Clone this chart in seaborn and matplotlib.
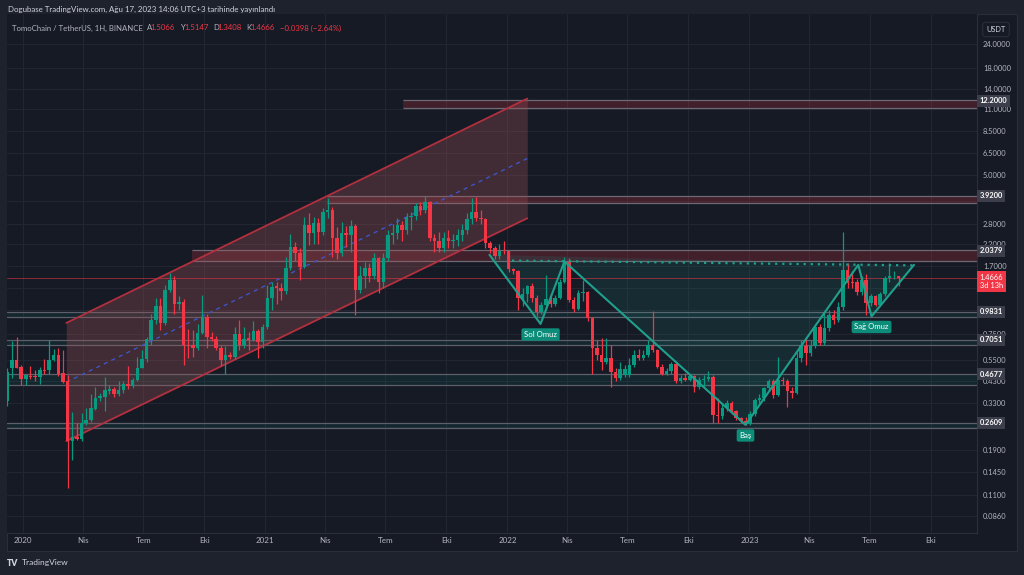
import matplotlib
matplotlib.use("Agg")
import matplotlib.pyplot as plt
import matplotlib.dates as mdates
import matplotlib.transforms as mtransforms
from matplotlib.patches import Rectangle
from matplotlib.ticker import NullLocator
import numpy as np
import pandas as pd
import seaborn as sns

# ------------------------------------------------------------------ data
week_start = "2019-12-09"   # weekly candles (Mondays)
opens = [0.34, 0.50, 0.556, 0.51, 0.44, 0.458, 0.455, 0.453, 0.49, 0.49,
         0.55, 0.59, 0.475, 0.43, 0.21, 0.22, 0.215, 0.26, 0.27, 0.31,
         0.35, 0.357, 0.38, 0.39, 0.367, 0.385, 0.415, 0.405, 0.436, 0.505,
         0.56, 0.70, 0.89, 1.05, 0.86, 1.275, 1.43, 1.08, 1.10, 0.665,
         0.665, 0.635, 0.765, 0.92, 0.73, 0.71, 0.636, 0.553, 0.59, 0.575,
         0.75, 0.66, 0.72, 0.70, 0.78, 0.685, 0.82, 1.16, 1.33, 1.30,
         1.255, 1.65, 2.14, 1.97, 1.68, 2.77, 2.53, 2.85, 2.56, 3.22,
         3.30, 2.37, 1.98, 2.53, 2.45, 2.74, 1.275, 1.50, 1.66, 1.50,
         1.86, 1.41, 1.86, 2.46, 2.51, 2.77, 2.61, 3.05, 3.08, 3.46,
         3.30, 3.62, 2.37, 2.30, 2.10, 2.37, 2.28, 2.32, 2.46, 2.61,
         2.96, 3.25, 3.00, 2.96, 2.23, 2.10, 1.92, 2.04, 2.02, 1.64,
         1.60, 1.16, 1.22, 1.34, 1.16, 0.98, 1.066, 1.145, 1.08, 1.16,
         1.41, 1.79, 1.13, 1.02, 1.23, 1.24, 0.91, 0.636, 0.587, 0.542,
         0.568, 0.482, 0.447, 0.465, 0.465, 0.521, 0.59, 0.565, 0.587, 0.661,
         0.623, 0.511, 0.469, 0.487, 0.526, 0.428, 0.447, 0.436, 0.456, 0.40,
         0.433, 0.443, 0.45, 0.287, 0.282, 0.312, 0.330, 0.301, 0.277, 0.266,
         0.258, 0.290, 0.343, 0.353, 0.394, 0.428, 0.364, 0.436, 0.428, 0.38,
         0.372, 0.565, 0.656, 0.598, 0.656, 0.823, 0.675, 0.807, 0.945, 0.891,
         1.045, 1.62, 1.41, 1.41, 1.25, 1.44, 1.09, 1.18, 1.066, 1.21,
         1.47, 1.50, 1.5066]
highs = [0.50, 0.69, 0.73, 0.52, 0.46, 0.515, 0.49, 0.51, 0.56, 0.70,
         0.63, 0.635, 0.62, 0.463, 0.296, 0.262, 0.294, 0.313, 0.37, 0.40,
         0.375, 0.45, 0.41, 0.40, 0.43, 0.43, 0.515, 0.445, 0.575, 0.62,
         0.73, 0.96, 1.16, 1.16, 1.355, 1.56, 1.50, 1.18, 1.15, 0.80,
         0.79, 0.85, 1.20, 0.96, 0.77, 0.74, 0.66, 0.65, 0.61, 0.82,
         0.89, 0.82, 0.77, 0.88, 0.80, 0.85, 1.355, 1.41, 1.41, 1.38,
         1.90, 2.50, 2.25, 2.10, 3.05, 3.20, 3.05, 3.00, 3.40, 3.84,
         3.45, 2.70, 2.88, 2.75, 2.94, 2.80, 1.70, 1.79, 1.75, 1.98,
         1.90, 1.98, 2.60, 2.80, 3.00, 2.90, 3.20, 3.25, 3.60, 3.62,
         3.90, 3.70, 2.50, 2.55, 2.55, 2.60, 2.50, 2.65, 2.80, 3.20,
         3.80, 3.85, 3.30, 3.00, 2.30, 2.15, 2.20, 2.30, 2.05, 1.66,
         1.62, 1.30, 1.36, 1.38, 1.20, 1.10, 1.52, 1.18, 1.20, 1.45,
         1.88, 1.86, 1.17, 1.27, 1.44, 1.26, 0.92, 0.70, 0.715, 0.715,
         0.66, 0.50, 0.542, 0.52, 0.565, 0.62, 0.63, 0.62, 0.70, 0.99,
         0.63, 0.53, 0.50, 0.54, 0.545, 0.46, 0.473, 0.47, 0.46, 0.45,
         0.46, 0.487, 0.46, 0.35, 0.33, 0.345, 0.34, 0.305, 0.28, 0.28,
         0.30, 0.35, 0.37, 0.40, 0.44, 0.44, 0.575, 0.45, 0.44, 0.40,
         0.61, 0.70, 0.715, 0.70, 0.85, 0.85, 0.985, 1.00, 1.00, 1.10,
         2.56, 1.75, 1.60, 1.45, 1.50, 1.55, 1.21, 1.20, 1.25, 1.50,
         1.75, 1.60, 1.5147]
lows = [0.32, 0.445, 0.50, 0.408, 0.41, 0.44, 0.43, 0.415, 0.47, 0.47,
        0.545, 0.455, 0.42, 0.12, 0.168, 0.213, 0.21, 0.255, 0.265, 0.305,
        0.34, 0.30, 0.37, 0.357, 0.36, 0.375, 0.39, 0.395, 0.43, 0.50,
        0.54, 0.665, 0.85, 0.79, 0.84, 1.24, 0.96, 1.00, 0.52, 0.565,
        0.575, 0.62, 0.75, 0.64, 0.69, 0.62, 0.515, 0.47, 0.56, 0.56,
        0.62, 0.64, 0.62, 0.69, 0.565, 0.64, 0.80, 1.00, 1.08, 1.13,
        1.22, 1.62, 1.80, 1.44, 1.65, 2.18, 2.20, 2.20, 2.45, 3.00,
        1.90, 1.85, 1.92, 2.13, 2.00, 0.945, 1.23, 1.30, 1.40, 1.45,
        1.23, 1.30, 1.80, 2.20, 2.35, 2.30, 2.50, 2.60, 2.95, 3.10,
        3.20, 2.30, 2.00, 2.00, 2.00, 2.10, 2.10, 2.15, 2.30, 2.50,
        2.80, 2.90, 2.80, 2.10, 1.98, 1.85, 1.85, 1.95, 1.58, 1.55,
        1.00, 1.05, 1.10, 1.10, 0.94, 0.96, 1.00, 1.04, 1.05, 1.14,
        1.38, 1.10, 0.98, 1.00, 1.12, 0.88, 0.47, 0.55, 0.49, 0.53,
        0.40, 0.43, 0.436, 0.45, 0.45, 0.51, 0.553, 0.553, 0.575, 0.61,
        0.50, 0.46, 0.465, 0.47, 0.42, 0.42, 0.428, 0.43, 0.379, 0.39,
        0.40, 0.43, 0.261, 0.261, 0.275, 0.30, 0.29, 0.27, 0.262, 0.255,
        0.256, 0.285, 0.33, 0.34, 0.38, 0.35, 0.36, 0.41, 0.316, 0.35,
        0.37, 0.54, 0.521, 0.58, 0.64, 0.66, 0.66, 0.78, 0.85, 0.87,
        1.00, 1.30, 1.30, 1.20, 1.20, 0.945, 1.05, 1.05, 1.05, 1.18,
        1.40, 1.45, 1.3408]
closes = [0.48, 0.556, 0.505, 0.44, 0.46, 0.452, 0.45, 0.49, 0.485, 0.55,
          0.59, 0.47, 0.425, 0.21, 0.22, 0.215, 0.26, 0.27, 0.312, 0.35,
          0.36, 0.387, 0.39, 0.368, 0.385, 0.415, 0.405, 0.436, 0.505, 0.56,
          0.71, 0.89, 1.05, 0.86, 1.275, 1.43, 1.08, 1.10, 0.66, 0.655,
          0.635, 0.765, 0.92, 0.73, 0.71, 0.636, 0.553, 0.59, 0.575, 0.75,
          0.66, 0.71, 0.705, 0.78, 0.685, 0.82, 1.16, 1.32, 1.30, 1.255,
          1.65, 2.14, 1.97, 1.68, 2.77, 2.53, 2.85, 2.56, 3.22, 3.30,
          2.37, 1.98, 2.53, 2.45, 2.74, 1.275, 1.50, 1.66, 1.50, 1.86,
          1.41, 1.86, 2.46, 2.51, 2.77, 2.61, 3.05, 3.08, 3.46, 3.30,
          3.62, 2.37, 2.30, 2.10, 2.37, 2.28, 2.32, 2.46, 2.61, 2.96,
          3.25, 3.00, 2.96, 2.23, 2.10, 1.92, 2.04, 2.02, 1.64, 1.60,
          1.16, 1.22, 1.34, 1.16, 0.98, 1.066, 1.14, 1.08, 1.16, 1.41,
          1.79, 1.13, 1.02, 1.23, 1.24, 0.91, 0.636, 0.587, 0.542, 0.568,
          0.482, 0.447, 0.497, 0.497, 0.521, 0.59, 0.565, 0.587, 0.661, 0.623,
          0.511, 0.469, 0.487, 0.526, 0.428, 0.447, 0.436, 0.456, 0.40, 0.433,
          0.443, 0.45, 0.287, 0.282, 0.312, 0.330, 0.301, 0.277, 0.266, 0.258,
          0.290, 0.343, 0.353, 0.394, 0.428, 0.364, 0.436, 0.428, 0.38, 0.372,
          0.565, 0.656, 0.598, 0.656, 0.823, 0.675, 0.807, 0.945, 0.891, 1.045,
          1.62, 1.385, 1.385, 1.25, 1.44, 1.09, 1.18, 1.066, 1.21, 1.47,
          1.50, 1.51, 1.4666]

price_ticks = [24, 18, 14, 11, 8.5, 6.5, 5.0, 3.7, 2.8, 2.2, 1.7, 1.3, 1.0,
               0.75, 0.55, 0.43, 0.33, 0.25, 0.19, 0.145, 0.11, 0.086]
hidden_ticks = [3.7, 1.3, 1.0, 0.25]
time_ticks = ["2020-01-01", "2020-04-01", "2020-07-01", "2020-10-01",
              "2021-01-01", "2021-04-01", "2021-07-01", "2021-10-01",
              "2022-01-01", "2022-04-01", "2022-07-01", "2022-10-01",
              "2023-01-01", "2023-04-01", "2023-07-01", "2023-10-01"]
time_labels = ["2020", "Nis", "Tem", "Eki", "2021", "Nis", "Tem", "Eki",
               "2022", "Nis", "Tem", "Eki", "2023", "Nis", "Tem", "Eki"]

level_values = [12.2, 3.92, 2.0379, 0.9831, 0.7051, 0.4677, 0.2609]
last_price = 1.4666
last_price_text = "1.4666\n3d 13h"

red_zone_start = ["2021-07-27", "2021-04-04", "2020-09-12"]
red_zone_low = [11.2, 3.58, 1.81]
red_zone_high = [12.35, 3.93, 2.05]
teal_zone_low = [0.926, 0.661, 0.411, 0.247]
teal_zone_high = [0.9831, 0.7051, 0.4677, 0.2609]

channel_dates = ["2020-03-07", "2022-01-31"]
channel_upper = [0.86, 12.5]
channel_mid = [0.424, 6.12]
channel_lower = [0.21, 3.0]

hs_dates = ["2021-12-05", "2022-02-20", "2022-03-28", "2022-12-26",
            "2023-06-14", "2023-07-04", "2023-09-06"]
hs_prices = [1.94, 0.85, 1.79, 0.255, 1.72, 0.93, 1.72]
hs_labels = {1: "Sol Omuz", 3: "Baş", 5: "Sağ Omuz"}
neck_dates = ["2022-01-08", "2023-09-06"]
neck_prices = [1.81, 1.71]

header_text = "Dogubase TradingView.com, Ağu 17, 2023 14:06 UTC+3 tarihinde yayınlandı"

# ------------------------------------------------------------------ style
FRAME = "#1e222d"
PANE = "#161a25"
GRID = "#232733"
TXT = "#b2b5be"
BORDER = "#2a2e39"
GREEN = "#089981"
RED = "#f23645"
TEAL = "#1fa08d"
BOXGRAY = "#3c3f4b"

sns.set_theme(style="dark", rc={"axes.facecolor": PANE, "figure.facecolor": FRAME})
plt.rcParams["font.family"] = ["Lato", "DejaVu Sans"]

W, H = 1024, 575
fig = plt.figure(figsize=(W / 100, H / 100), dpi=100)
fig.patch.set_facecolor(FRAME)


def fx(px):
    return px / W


def fy(py):
    return 1 - py / H


fig.add_artist(Rectangle((fx(7), fy(551)), fx(1017) - fx(7), fy(14) - fy(551),
                         transform=fig.transFigure, fc=PANE, ec=BORDER, lw=0.8, zorder=-1))
ax = fig.add_axes([fx(7), fy(533), fx(977) - fx(7), fy(14) - fy(533)])
ax.set_facecolor(PANE)
ax.set_yscale("log")
ax.set_ylim(0.0702, 34.3)
base = mdates.date2num(pd.Timestamp("2020-01-01"))
ax.set_xlim(base - 23.4, base + 1439.0)

dates = pd.date_range(week_start, periods=len(opens), freq="7D")
o = np.array(opens); c = np.array(closes); hi = np.array(highs); lo = np.array(lows)
up = c >= o
cols = np.where(up, GREEN, RED)

# zones
for s, l, h in zip(red_zone_start, red_zone_low, red_zone_high):
    x0 = mdates.date2num(pd.Timestamp(s))
    ax.fill_between([x0, base + 1439.0], l, h, color=RED, alpha=0.2, lw=0, zorder=1)
    ax.hlines([l, h], x0, base + 1439.0, color="#6e6a74", lw=0.9, zorder=1.1)
for l, h in zip(teal_zone_low, teal_zone_high):
    ax.axhspan(l, h, color=GREEN, alpha=0.10, lw=0, zorder=1)
    ax.axhline(l, color="#5d606b", lw=0.9, zorder=1.1)
    ax.axhline(h, color="#5d606b", lw=0.9, zorder=1.1)

# channel
cd = pd.to_datetime(channel_dates)
ax.fill_between(cd, channel_lower, channel_upper, color="#9c4f55", alpha=0.32, lw=0, zorder=1.2)
sns.lineplot(x=cd, y=channel_upper, color="#b3303f", lw=1.3, ax=ax, zorder=2)
sns.lineplot(x=cd, y=channel_lower, color="#b3303f", lw=1.3, ax=ax, zorder=2)
sns.lineplot(x=cd, y=channel_mid, color="#3d55c8", lw=1.0, ax=ax, zorder=2, dashes=False,
             linestyle=(0, (3, 3)))

# current price line
ax.axhline(last_price, color=RED, lw=0.7, alpha=0.55, zorder=1.5)

# candles
ax.vlines(dates, lo, hi, colors=cols, lw=0.9, zorder=3)
ax.bar(dates, np.maximum(np.abs(c - o), 0.004 * np.minimum(o, c)), bottom=np.minimum(o, c),
       width=5.3, color=cols, lw=0, zorder=3.1)

# head & shoulders
hd = pd.to_datetime(hs_dates)
ax.fill(mdates.date2num(hd), hs_prices, color=TEAL, alpha=0.13, lw=0, zorder=1.3)
hs_df = pd.DataFrame({"date": hd, "price": hs_prices})
sns.lineplot(data=hs_df, x="date", y="price", sort=False, estimator=None,
             color=TEAL, lw=1.5, ax=ax, zorder=4)
ax.plot(pd.to_datetime(neck_dates), neck_prices, color=TEAL, lw=1.6,
        linestyle=(0, (1, 2.2)), zorder=4)
for i, lab in hs_labels.items():
    ax.annotate(lab, xy=(hd[i], hs_prices[i]), xytext=(0, -7.6), textcoords="offset points",
                ha="center", va="center", color="white", fontsize=5.6, zorder=6,
                bbox=dict(boxstyle="round,pad=0.35,rounding_size=0.25", fc="#0c8c79", ec="none"))

# axes cosmetics
ax.yaxis.tick_right()
ax.set_yticks(price_ticks)
ax.set_yticklabels(["" if t in hidden_ticks else f"{t:.4f}" for t in price_ticks])
ax.yaxis.set_minor_locator(NullLocator())
ax.set_xticks(mdates.date2num(pd.to_datetime(time_ticks)))
ax.set_xticklabels(time_labels)
ax.tick_params(axis="y", length=0, pad=4.3, labelsize=5.4, labelcolor=TXT)
ax.tick_params(axis="x", length=0, pad=3.2, labelsize=5.8, labelcolor=TXT)
ax.grid(True, color=GRID, lw=0.7, zorder=0)
ax.set_axisbelow(True)
ax.set_xlabel(""); ax.set_ylabel("")
for side in ["top", "left"]:
    ax.spines[side].set_visible(False)
for side in ["right", "bottom"]:
    ax.spines[side].set_color(BORDER)
    ax.spines[side].set_linewidth(0.8)
if ax.get_legend():
    ax.get_legend().remove()

# price level boxes
blend = mtransforms.blended_transform_factory(fig.transFigure, ax.transData)
for v in level_values:
    ax.text(fx(979.5), v, f"{v:.4f}", transform=blend, ha="left", va="center",
            fontsize=5.4, fontweight="bold", color="white", clip_on=False, zorder=10,
            bbox=dict(boxstyle="square,pad=0.32", fc=BOXGRAY, ec="none"))
ax.annotate(last_price_text, xy=(fx(979.5), last_price), xycoords=blend, xytext=(0, 3.3),
            textcoords="offset points", ha="left", va="top", fontsize=5.4, color="white",
            linespacing=1.25, annotation_clip=False, zorder=11,
            bbox=dict(boxstyle="square,pad=0.4", fc=RED, ec="none"))

# texts
fig.text(fx(8), fy(9), header_text, color="#d1d4dc", fontsize=5.7, va="center", ha="left")
legend_parts = [(12, "TomoChain / TetherUS, 1H, BINANCE", TXT),
                (146.5, "A", TXT), (150, "1.5066", RED),
                (180.5, "Y", TXT), (184.5, "1.5147", RED),
                (213.5, "D", TXT), (217.5, "1.3408", RED),
                (246.5, "K", TXT), (250.5, "1.4666", RED),
                (280, "−0.0398 (−2.64%)", RED)]
for px, s, col in legend_parts:
    fig.text(fx(px), fy(28), s, color=col, fontsize=5.6, va="center", ha="left")
fig.text(fx(996), fy(29.5), "USDT", color="#d1d4dc", fontsize=5.3, ha="center", va="center",
         bbox=dict(boxstyle="round,pad=0.5,rounding_size=0.4", fc=PANE, ec=BORDER, lw=0.8))
fig.text(fx(7), fy(563), "TV", color="#d1d4dc", fontsize=6.2, fontweight="heavy",
         va="center", ha="left")
fig.text(fx(22), fy(563), "TradingView", color="#d1d4dc", fontsize=6.0, va="center", ha="left")

fig.savefig("out.png", dpi=100, facecolor=FRAME)
